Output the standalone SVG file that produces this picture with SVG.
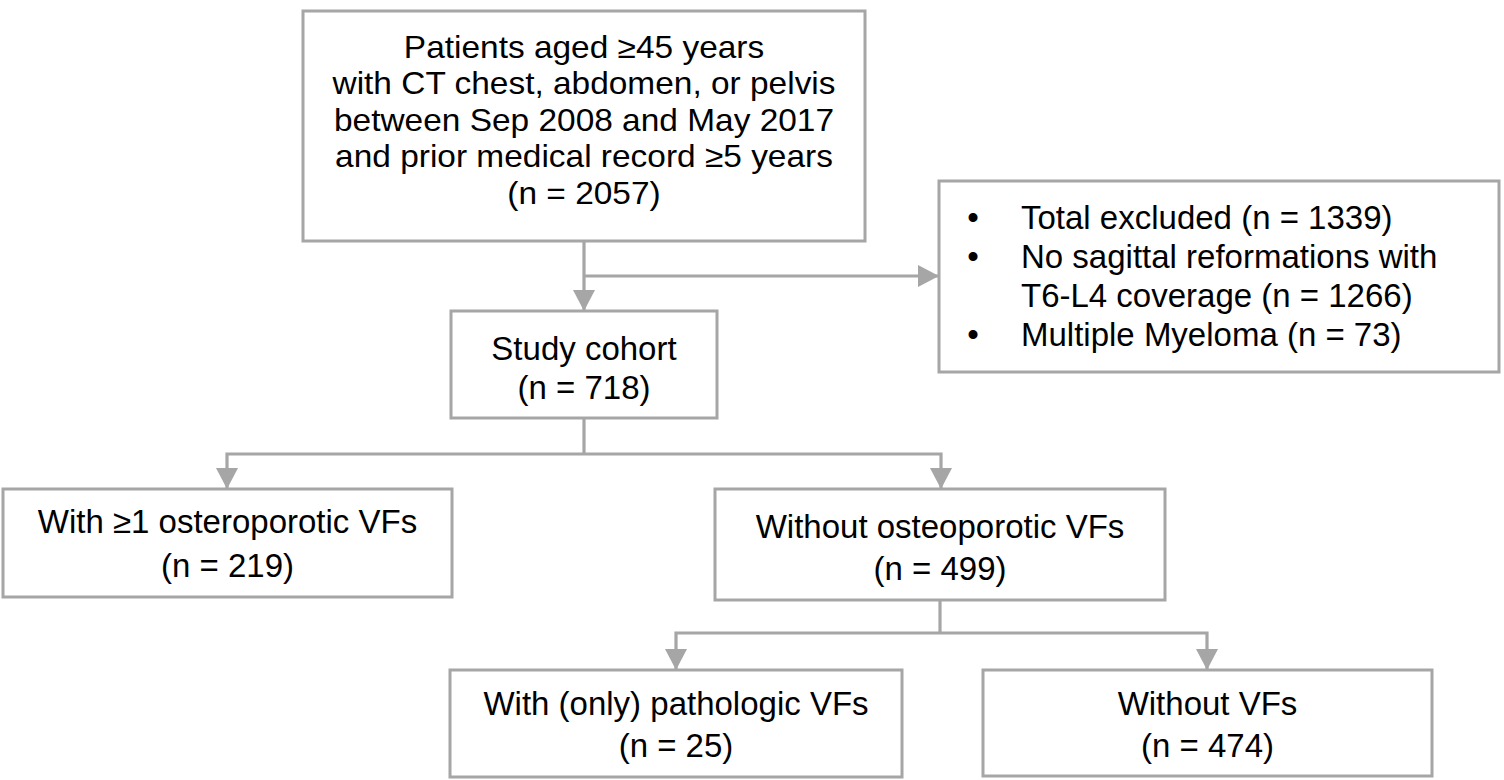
<svg xmlns="http://www.w3.org/2000/svg" width="1504" height="780" viewBox="0 0 1504 780">
<defs>
<style>
.box{fill:#ffffff;stroke:#a6a6a6;stroke-width:3}
.t{font-family:"Liberation Sans",Arial,sans-serif;font-size:33px;fill:#000000;text-anchor:middle}
.tl{font-family:"Liberation Sans",Arial,sans-serif;font-size:33px;fill:#000000}
.top{font-family:"Liberation Sans",Arial,sans-serif;font-size:31px;fill:#000000;text-anchor:middle}
.c{fill:none;stroke:#a6a6a6;stroke-width:3.2}
</style>
<marker id="ah" viewBox="0 0 21 22" refX="21" refY="11" markerWidth="21" markerHeight="22" orient="auto" markerUnits="userSpaceOnUse">
<path d="M0,0 L21,11 L0,22 Z" fill="#a6a6a6"/>
</marker>
</defs>
<rect width="1504" height="780" fill="#ffffff"/>
<g id="connectors">
<path class="c" d="M584,241 V311" marker-end="url(#ah)"/>
<path class="c" d="M584,276 H939" marker-end="url(#ah)"/>
<path class="c" d="M584,418 V454"/>
<path class="c" d="M584,454 H227 V489" marker-end="url(#ah)"/>
<path class="c" d="M584,454 H941 V489" marker-end="url(#ah)"/>
<path class="c" d="M940,600 V633"/>
<path class="c" d="M940,633 H676 V670" marker-end="url(#ah)"/>
<path class="c" d="M940,633 H1207 V670" marker-end="url(#ah)"/>
</g>
<g id="node-patients">
<rect class="box" x="303" y="11" width="562" height="230"/>
<g transform="translate(584,0) scale(1.079,1)">
<text class="top" x="0" y="58">Patients aged ≥45 years</text>
<text class="top" x="0" y="94.5">with CT chest, abdomen, or pelvis</text>
<text class="top" x="0" y="131">between Sep 2008 and May 2017</text>
<text class="top" x="0" y="167.5">and prior medical record ≥5 years</text>
<text class="top" x="0" y="204">(n = 2057)</text>
</g>
</g>
<g id="node-excluded">
<rect class="box" x="939" y="181" width="560" height="191"/>
<text class="t" x="973" y="228.5">•</text>
<text class="tl" x="1021" y="228.5">Total excluded (n = 1339)</text>
<text class="t" x="973" y="267.8">•</text>
<text class="tl" x="1021" y="267.8">No sagittal reformations with</text>
<text class="tl" x="1021" y="307">T6-L4 coverage (n = 1266)</text>
<text class="t" x="973" y="346.3">•</text>
<text class="tl" x="1021" y="346.3">Multiple Myeloma (n = 73)</text>
</g>
<g id="node-cohort">
<rect class="box" x="451" y="311" width="266" height="107"/>
<text class="t" x="584" y="360">Study cohort</text>
<text class="t" x="584" y="399">(n = 718)</text>
</g>
<g id="node-with-osteo">
<rect class="box" x="3" y="489" width="449" height="108"/>
<text class="t" x="227.5" y="533">With ≥1 osteroporotic VFs</text>
<text class="t" x="227.5" y="577">(n = 219)</text>
</g>
<g id="node-without-osteo">
<rect class="box" x="715" y="489" width="450" height="111"/>
<text class="t" x="940" y="538">Without osteoporotic VFs</text>
<text class="t" x="940" y="580">(n = 499)</text>
</g>
<g id="node-pathologic">
<rect class="box" x="450" y="670" width="452" height="107"/>
<text class="t" x="676" y="715">With (only) pathologic VFs</text>
<text class="t" x="676" y="757">(n = 25)</text>
</g>
<g id="node-without-vfs">
<rect class="box" x="983" y="670" width="449" height="106"/>
<text class="t" x="1207.5" y="715">Without VFs</text>
<text class="t" x="1207.5" y="757">(n = 474)</text>
</g>
</svg>
